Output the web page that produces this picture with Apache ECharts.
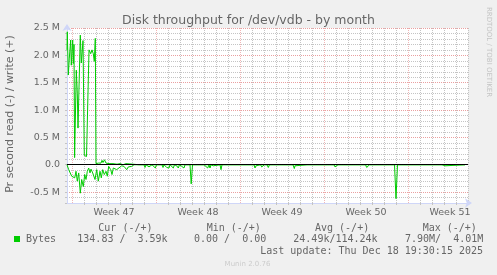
<!DOCTYPE html>
<html><head><meta charset="utf-8">
<script src="https://cdn.jsdelivr.net/npm/echarts@6/dist/echarts.min.js"></script>
<style>html,body{margin:0;padding:0;background:#f0f0f0;}#c{width:497px;height:275px;}</style>
</head><body><div id="c"></div>
<script>
// time axis: hours since Mon 17 Nov 2025 00:00
const weekLabels = ['Week 47', 'Week 48', 'Week 49', 'Week 50', 'Week 51'];
const weekCenters = [84, 252, 420, 588, 756];
const weekStarts = [0, 168, 336, 504, 672];

// write (+) in MB/s
const writeT = [-10,-9.4,-7.4,-5.4,-2.6,-1.4,1.4,2.6,4,5.2,7.6,8.6,10.6,12,13.2,16.6,18.6,22,24.6,27,29,30.6,34,37.4,40,42.6,44.6,46.6,48,
  50,53,56,58,60,62,65,68,71,74,78,82,86,90,96,102,108,112,
  134,136,138,154,156,158,224,226,228,254,256,258,278,280,282,306,308,310,370,372,374,418,420,422,466,468,470,
  526,528,530,574,576,578,590,592,594,642,644,646,684,686,688,714,716,718,738,740,742,764,766,768,780,782,786];
const writeV = [2.1,2.43,1.64,1.95,2.28,1.82,2.28,1.85,2.2,0.13,0.12,1.73,1.3,0.67,0.7,2.37,1.86,2.27,0.17,0.2,0.15,0.17,2.1,2.03,2.1,2.03,1.89,2.31,0.02,
  0.01,0.03,0.06,0.03,0.08,0.04,0.09,0.03,0.05,0.02,0.04,0.02,0.03,0.01,0.02,0,0.02,0,
  0,0.02,0,0,0.02,0,0,0.02,0,0,0.02,0,0,0.02,0,0,0.02,0,0,0.02,0,0,0.02,0,0,0.02,0,
  0,0.02,0,0,0.02,0,0,0.02,0,0,0.02,0,0,0.02,0,0,0.02,0,0,0.02,0,0,0.02,0,0,0.02,0];

// read (-) in MB/s (magnitude, drawn below zero)
const readT = [-10,-8.6,-6.6,-2.6,-0.6,2.6,5.4,8,10.6,13.4,16.6,19.4,22.6,25.4,28,30.6,33.4,36,38,41.4,46,49.4,52.6,56,58.6,61.4,64.6,68,70.6,73.4,77.4,80,82.6,86,89.4,93.4,99.4,104,109.4,112.6,119.4,124,
  144,146,148,152,154,156,158,160,164,166.6,169,180,182,184,187,189.4,192,194,196,200,202.6,205,207,209.4,211,212.6,215,217,219.4,222,224,226,
  236,238.4,241,252,254,256,264,266,268,271.4,274,276,278,279.4,281,282.6,285,296,298,300,302.6,305,
  364,366,368,370,372,377,379.4,381,382.6,385,390,392.6,395,400,402,404,442,444.6,446,448,450,470,472,474,488,490,492,
  524,526,528,530,532,544,546,548,567,569.4,572,587,589.4,591,592.6,595,
  645,648,651,694,696,698,724,726,728,740,742.6,744,746,748,786];
const readV = [0,0.03,0.09,0.12,0.21,0.18,0.24,0.12,0.30,0.15,0.52,0.27,0.40,0.18,0.27,0.12,0.06,0.15,0.08,0.15,0.27,0.09,0.30,0.12,0.24,0.09,0.18,0.12,0.21,0.03,0.09,0.18,0.06,0.03,0.09,0.06,0.02,0.03,0.09,0.04,0.03,0,
  0,0.05,0,0,0.04,0.02,0.05,0,0,0.06,0,0,0.05,0,0,0.05,0.02,0.06,0,0,0.06,0,0,0.02,0,0.06,0,0,0.03,0,0.06,0,
  0,0.35,0,0,0.03,0,0,0.03,0,0.06,0,0.06,0,0.03,0,0.02,0,0,0.09,0,0.02,0,
  0,0.06,0.02,0.03,0,0,0.04,0.02,0.05,0,0,0.05,0,0,0.01,0,0,0.07,0.02,0.04,0,0,0.01,0,0,0.01,0,
  0,0.04,0.01,0.02,0,0,0.01,0,0,0.02,0,0,0.05,0.02,0.03,0,
  0,0.62,0,0,0.02,0,0,0.02,0,0,0.02,0.01,0.02,0,0];

const legendHeaders = ['Cur (-/+)', 'Min (-/+)', 'Avg (-/+)', 'Max (-/+)'];
const legendValues = ['134.83 /  3.59k', '0.00 /  0.00', '24.49k/114.24k', '7.90M/  4.01M'];
const seriesName = 'Bytes';
const lastUpdate = 'Last update: Thu Dec 18 19:30:15 2025';

// daily grid lines (week boundaries get the major style instead)
const dayTicks = [];
for (let h = 0; h <= 792; h += 24) if (h % 168 !== 0) dayTicks.push(h);

const GREEN = '#00cc00';
const MINOR = '#c4c4c4';
const MAJOR = '#eaa0a0';
const MAJOR_V = '#f0b6b6';
const AXIS = '#cfd6f8';
const FONT = '#666666';
const MONO = '10px "DejaVu Sans Mono"';

const chart = echarts.init(document.getElementById('c'), null, {renderer: 'canvas'});
const headerX = [98.3, 206.7, 315, 422.7];
const valueX = [77.3, 194, 293.3, 405];
const graphics = [
  {type:'rect', shape:{x:14, y:236, width:6, height:6}, style:{fill:GREEN}},
  {type:'text', x:26, y:239.5, style:{text:seriesName, font:MONO, fill:FONT, verticalAlign:'middle'}},
  {type:'text', x:483, y:251, style:{text:lastUpdate, font:MONO, fill:FONT, align:'right', verticalAlign:'middle'}},
  {type:'text', x:247.5, y:264.5, style:{text:'Munin 2.0.76', font:'7px "DejaVu Sans"', fill:'#cccccc', align:'center', verticalAlign:'middle'}},
  {type:'text', x:10.5, y:114, rotation:Math.PI/2, style:{text:'Pr second read (-) / write (+)', font:'11px "DejaVu Sans"', fill:FONT, align:'center', verticalAlign:'middle'}},
  {type:'text', x:489, y:52, rotation:-Math.PI/2, style:{text:'RRDTOOL / TOBI OETIKER', font:'7px "DejaVu Sans"', fill:'#c4c4c4', align:'center', verticalAlign:'middle'}}
];
legendHeaders.forEach((t, i) => graphics.push({type:'text', x:headerX[i], y:228, style:{text:t, font:MONO, fill:FONT, verticalAlign:'middle'}}));
legendValues.forEach((t, i) => graphics.push({type:'text', x:valueX[i], y:239.5, style:{text:t, font:MONO, fill:FONT, verticalAlign:'middle'}}));

chart.setOption({
  animation: false,
  backgroundColor: '#f0f0f0',
  title: {
    text: 'Disk throughput for /dev/vdb - by month',
    left: 'center', top: 9,
    textStyle: {fontFamily:'DejaVu Sans', fontSize:12.5, fontWeight:'normal', color:'#666'}
  },
  grid: {left:67, right:29, top:28, bottom:72, show:true, backgroundColor:'#ffffff', borderWidth:0, containLabel:false},
  xAxis: [
    {
      type:'value', min:-10, max:792, position:'bottom',
      axisLine:{show:true, onZero:false, lineStyle:{color:AXIS, width:1}, symbol:['none','arrow'], symbolSize:[7,7], symbolOffset:[0,4]},
      axisTick:{show:true, customValues:dayTicks, length:2, lineStyle:{color:MINOR}},
      axisLabel:{customValues:weekCenters, formatter:(v) => weekLabels[weekCenters.indexOf(Math.round(v))] || '', color:FONT, fontFamily:'DejaVu Sans', fontSize:9.5, margin:5},
      splitLine:{show:true, lineStyle:{color:MINOR, width:1, type:[1,1]}}
    },
    {
      type:'value', min:-10, max:792, position:'top',
      axisLine:{show:false}, axisTick:{show:false, customValues:weekStarts}, axisLabel:{show:false},
      splitLine:{show:true, lineStyle:{color:MAJOR_V, width:1, type:[1,1]}}
    }
  ],
  yAxis: {
    type:'value', min:-0.7, max:2.5, interval:0.1,
    axisLine:{show:true, onZero:false, lineStyle:{color:AXIS, width:1}, symbol:['none','arrow'], symbolSize:[7,7], symbolOffset:[0,4]},
    axisTick:{show:true, length:2, lineStyle:{color:MINOR}},
    axisLabel:{
      formatter:(v) => {
        const k = Math.round(v * 10);
        if (k % 5 !== 0) return '';
        if (k === 0) return '0.0';
        return (k / 10).toFixed(1) + ' M';
      },
      color:FONT, fontFamily:'DejaVu Sans', fontSize:9.5, margin:7
    },
    splitLine:{show:true, lineStyle:{color:[MINOR, MINOR, MAJOR, MINOR, MINOR], width:1, type:[1,1]}}
  },
  series: [
    {type:'line', name:seriesName, xAxisIndex:0, data:writeT.map((t, i) => [t, writeV[i]]), showSymbol:false, symbol:'none',
      lineStyle:{color:GREEN, width:1}, itemStyle:{color:GREEN}, z:2},
    {type:'line', name:seriesName, xAxisIndex:0, data:readT.map((t, i) => [t, -readV[i]]), showSymbol:false, symbol:'none',
      lineStyle:{color:GREEN, width:1}, itemStyle:{color:GREEN}, z:2},
    {type:'line', xAxisIndex:0, data:[], z:5,
      markLine:{silent:true, symbol:['none','none'], label:{show:false}, lineStyle:{color:'#000000', width:1, type:'solid'}, data:[{yAxis:0}], animation:false}}
  ],
  graphic: graphics
});
</script></body></html>
